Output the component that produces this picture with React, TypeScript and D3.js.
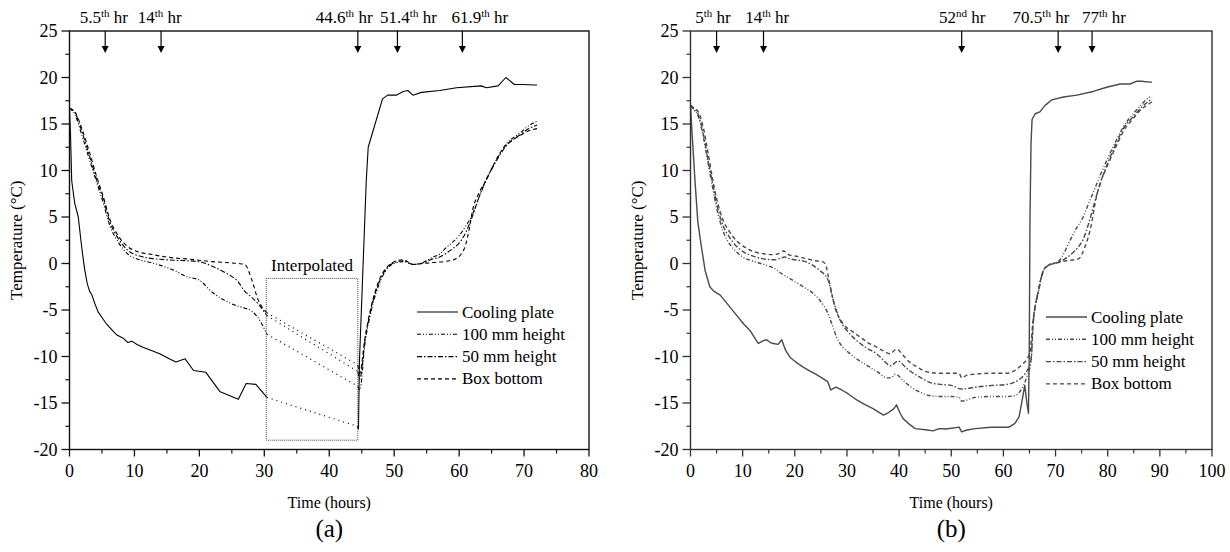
import React from 'react';
import * as d3 from 'd3';

type P = [number, number];

// ---------- Panel (a) data: [hours, °C] ----------
const coolA1: P[] = [[0,16.7],[0.15,14],[0.34,8.9],[0.8,6.5],[1.35,5],[1.88,1.75],[2.3,-0.5],[2.74,-2.2],[3.1,-3.0],[3.4,-3.3],[3.9,-4.3],[4.4,-5.2],[5.0,-5.8],[5.7,-6.5],[6.5,-7.1],[7.3,-7.7],[8.2,-8.0],[9.0,-8.5],[9.6,-8.35],[10.4,-8.7],[11.3,-9.0],[12.6,-9.35],[13.9,-9.7],[15.5,-10.3],[16.4,-10.6],[17.8,-10.25],[19.1,-11.5],[21.0,-11.7],[23.2,-13.8],[26.0,-14.6],[27.2,-12.9],[28.7,-13.0],[30.4,-14.4]];
const coolA2: P[] = [[44.3,-17.5],[44.5,-17.8],[44.65,-10.5],[45.7,8.9],[46.0,12.5],[48.2,17.7],[49.0,18.1],[50.3,18.1],[51.4,18.5],[52.1,18.6],[52.9,18.1],[54.2,18.4],[57.0,18.6],[59.6,18.9],[63.4,19.1],[64.2,18.9],[66.0,19.1],[67.2,20.0],[68.5,19.25],[69.8,19.25],[71.6,19.2],[72,19.2]];
const boxA1: P[] = [[0,16.7],[0.85,16.3],[1.9,14.5],[3.15,11.8],[4.2,9.3],[5.2,7.2],[6.2,4.8],[7.5,3.0],[9.0,1.8],[10.8,1.2],[12.5,1.0],[14,0.8],[16,0.6],[18,0.5],[20,0.35],[22,0.2],[24,0.1],[26,0.0],[27,-0.1],[28,-1.6],[29,-3.8],[30.4,-5.3]];
const mid50A1: P[] = [[0,16.7],[0.85,16.2],[1.9,14.2],[3.15,11.4],[4.2,9.0],[5.2,6.9],[6.2,4.5],[7.5,2.7],[9.0,1.4],[10.8,0.8],[12.5,0.55],[14,0.45],[16,0.35],[18,0.3],[20,0.2],[22,-0.3],[24,-1.0],[26,-2.0],[27,-3.0],[28,-3.6],[29,-4.3],[30.4,-5.6]];
const h100A1: P[] = [[0,16.7],[0.85,16.0],[1.9,13.8],[3.15,11.0],[4.2,8.7],[5.2,6.5],[6.2,4.1],[7.5,2.3],[9.0,1.0],[10.8,0.4],[12.5,0.1],[14,-0.2],[16,-0.7],[18,-1.4],[20,-1.8],[22,-3.1],[24,-4.0],[26,-4.6],[27,-4.8],[28,-5.1],[29,-5.8],[30.4,-7.6]];
const boxA2: P[] = [[44.4,-10.9],[44.7,-11.8],[45.5,-8.0],[46.5,-4.5],[47.8,-1.6],[49,-0.3],[50,0.2],[51.4,0.4],[52.9,-0.1],[54.4,0.0],[56,0.1],[58.5,0.3],[59.5,0.5],[60.3,1.0],[61,2.0],[61.5,3.5],[62.1,5.8],[63,7.5],[64.2,9.0],[65.3,10.6],[66.3,11.9],[67.3,12.8],[68.3,13.3],[69.5,13.8],[70.5,14.2],[72,14.5]];
const mid50A2: P[] = [[44.4,-11.6],[44.7,-12.4],[45.5,-8.3],[46.5,-4.7],[47.8,-1.8],[49,-0.4],[50,0.1],[51.4,0.3],[52.9,-0.1],[54.4,0.05],[56,0.5],[57,0.7],[58,1.1],[59,1.6],[60,2.2],[61,3.3],[62,5.0],[63,7.0],[64,8.8],[65.3,10.5],[66.3,11.7],[67.3,12.7],[68.3,13.3],[69.5,13.9],[70.5,14.4],[72,14.9]];
const h100A2: P[] = [[44.4,-13.2],[44.7,-13.6],[45.5,-8.6],[46.5,-5.0],[47.8,-2.0],[49,-0.5],[50,0.0],[51.4,0.2],[52.9,-0.1],[54.4,0.1],[56,0.7],[57,1.0],[58,1.7],[59,2.3],[60,3.0],[61,4.0],[62,5.2],[63,7.0],[64,8.7],[65.3,10.6],[66.3,11.8],[67.3,12.9],[68.3,13.5],[69.5,14.1],[70.5,14.7],[72,15.3]];
const interpBoxA = { h0: 30.3, h1: 44.4, t0: -1.6, t1: -19.0 };

// ---------- Panel (b) data ----------
const coolB: P[] = [[0,17],[0.3,14],[0.86,8.9],[1.4,4.5],[2.1,1.75],[2.8,-0.75],[3.7,-2.5],[4.5,-3.0],[5.7,-3.4],[7.3,-4.5],[8.9,-5.6],[10.2,-6.5],[11.4,-7.2],[12.3,-8.0],[13.0,-8.6],[14.0,-8.3],[14.6,-8.2],[15.3,-8.5],[15.9,-8.6],[16.8,-8.7],[17.5,-8.2],[18.2,-9.3],[19.1,-10.1],[20.2,-10.6],[21.6,-11.15],[23.0,-11.6],[24.0,-11.9],[25.5,-12.4],[26.3,-12.7],[26.9,-13.6],[27.9,-13.3],[29.0,-13.6],[30.2,-14.0],[31.7,-14.6],[33.2,-15.1],[35.0,-15.6],[37.0,-16.3],[37.8,-16.1],[39.0,-15.6],[39.5,-15.2],[40.2,-16.1],[40.8,-16.7],[42.0,-17.3],[43.1,-17.75],[45.4,-17.9],[46.5,-18.0],[47.7,-17.75],[49,-17.8],[51.5,-17.6],[52.0,-18.1],[53,-17.9],[54.6,-17.75],[57.6,-17.6],[61.1,-17.6],[62.2,-17.2],[63.0,-16.5],[63.5,-15.0],[64.1,-13.1],[64.5,-15.0],[64.8,-16.1],[64.95,-10],[65.1,5],[65.3,13],[65.5,15.5],[66.1,16.1],[67.0,16.3],[68.0,17.0],[69.3,17.6],[71.5,17.9],[74.1,18.1],[77.2,18.5],[79.8,18.95],[82.4,19.3],[84.3,19.3],[85.6,19.6],[86.5,19.6],[88.0,19.5],[88.5,19.5]];
const boxB: P[] = [[0,17],[0.5,16.8],[1.5,16.3],[2.5,14.5],[3.4,11.8],[4.2,9.2],[5.0,7.0],[6.3,4.6],[7.5,3.4],[8.9,2.4],[10,1.9],[12,1.3],[14,1.05],[16,0.95],[17.0,1.1],[17.8,1.35],[19,0.9],[20,0.8],[22,0.55],[24,0.3],[25.5,0.15],[26,-0.3],[26.7,-2.2],[27.7,-4.7],[29.3,-6.5],[31,-7.3],[32.5,-7.9],[34,-8.5],[35.7,-9.0],[37,-9.4],[38.3,-9.7],[39.5,-9.2],[40.8,-9.9],[42,-10.6],[43.4,-11.1],[45,-11.6],[47.7,-11.8],[50,-11.8],[51.5,-11.8],[52,-12.3],[53,-12.0],[54.6,-11.9],[58,-11.8],[60.7,-11.8],[62.2,-11.5],[63.7,-10.8],[64.5,-10.3],[65.1,-9.5],[65.7,-6.1],[66.7,-2.9],[67.7,-0.7],[68.6,-0.25],[70.5,0.1],[72.1,0.3],[74.4,0.5],[75.6,1.75],[76.6,3.5],[77.9,7.3],[78.5,8.5],[80,10.6],[81.7,12.7],[83,14.2],[84.9,15.6],[86.5,16.6],[88,17.2],[88.5,17.4]];
const mid50B: P[] = [[0,17],[0.5,16.7],[1.5,16.0],[2.5,13.8],[3.4,11.0],[4.2,8.7],[5.0,6.5],[6.3,4.0],[7.5,2.8],[8.9,1.8],[10,1.3],[12,0.8],[14,0.5],[16,0.4],[17.4,0.6],[18,0.7],[19,0.5],[20,0.4],[22,0.2],[24,-0.4],[24.8,-0.75],[26.4,-1.8],[27.4,-4.0],[28.7,-6.1],[30.3,-7.4],[31.9,-8.3],[33.8,-9.1],[35.7,-9.7],[37,-10.4],[38.3,-11.0],[39.8,-10.5],[41.5,-11.3],[43.9,-12.2],[46,-12.8],[48,-13.0],[50,-13.1],[52,-13.5],[54.6,-13.3],[58,-13.1],[60.7,-13.0],[62.2,-12.75],[63.2,-12.4],[64.1,-11.9],[65.3,-10.4],[65.7,-6.4],[66.7,-3.0],[67.7,-0.7],[68.6,-0.2],[70.5,0.15],[71.8,0.5],[73.2,1.1],[74.4,1.8],[75.3,2.6],[76.4,4.4],[77.5,6.6],[78.5,8.5],[80,10.8],[81.7,13.0],[83,14.5],[84.9,15.8],[86.5,16.8],[88,17.5],[88.5,17.7]];
const h100B: P[] = [[0,17],[0.5,16.6],[1.5,15.8],[2.5,13.5],[3.4,10.7],[4.2,8.3],[5.0,6.0],[6.3,3.4],[7.5,2.1],[8.9,1.2],[10,0.7],[12,0.25],[14,-0.1],[16,-0.5],[17.5,-1.1],[19,-1.6],[21.6,-2.5],[23.5,-3.2],[25.5,-4.5],[26.3,-5.3],[27.1,-6.5],[28.0,-7.9],[29.2,-9.0],[30.6,-9.7],[32.5,-10.5],[34.4,-11.15],[36,-11.7],[37.6,-12.3],[38.4,-12.3],[39.3,-11.9],[40.8,-12.6],[42.3,-13.3],[43.9,-13.8],[45.8,-14.2],[47.7,-14.3],[50,-14.3],[51.5,-14.4],[52,-14.8],[54.6,-14.4],[58,-14.3],[60.7,-14.3],[62.2,-14.2],[63.0,-13.9],[63.7,-13.3],[64.5,-12.2],[65.3,-10.4],[65.7,-6.6],[66.7,-3.1],[67.7,-0.8],[68.6,-0.2],[70.5,0.2],[71.5,1.0],[72.8,2.5],[74,3.8],[75.3,5.0],[76.3,6.4],[77.2,7.6],[78.5,9.4],[80,11.3],[81.7,13.3],[83,14.7],[84.9,16.1],[86.5,17.1],[87.8,17.8],[88.5,18.0]];

// ---------- Axis ticks / labels ----------
const yTicks = [-20, -15, -10, -5, 0, 5, 10, 15, 20, 25];
const yMinor = [-17.5, -12.5, -7.5, -2.5, 2.5, 7.5, 12.5, 17.5, 22.5];
const xTicksA = [0, 10, 20, 30, 40, 50, 60, 70, 80];
const xMinorA = [5, 15, 25, 35, 45, 55, 65, 75];
const xTicksB = [0, 10, 20, 30, 40, 50, 60, 70, 80, 90, 100];
const xMinorB = [5, 15, 25, 35, 45, 55, 65, 75, 85, 95];

const legendNames = ['Cooling plate', '100 mm height', '50 mm height', 'Box bottom'];

// annotations: [number part, superscript], arrow hour, label-centre hour
const annoTextA: [string, string][] = [['5.5', 'th'], ['14', 'th'], ['44.6', 'th'], ['51.4', 'th'], ['61.9', 'th']];
const annoArrowA = [5.5, 14.1, 44.4, 50.5, 60.5];
const annoLabelA = [5.3, 13.9, 42.3, 52.2, 63.2];
const annoTextB: [string, string][] = [['5', 'th'], ['14', 'th'], ['52', 'nd'], ['70.5', 'th'], ['77', 'th']];
const annoArrowB = [5, 14, 52, 70.5, 77];
const annoLabelB = [4.3, 14.7, 52.1, 67.2, 79.3];

const FONT = "'Liberation Serif', 'Times New Roman', Times, serif";
const DASH = ['none', '4,2,1,2,1,2', '5,2,1.5,2', '4,3'];

interface PanelProps {
  left: number; right: number; top: number; bottom: number;
  xMax: number; xTicks: number[]; xMinor: number[];
  color: string; axisColor: string; lw: number;
  series: { parts: P[][]; style: number; curve: boolean }[];
  dotted: [P, P][];
  annoText: [string, string][]; annoArrow: number[]; annoLabel: number[];
  legend: { x: number; y: number };
  tag: string; ytitleX: number;
  interp?: { h0: number; h1: number; t0: number; t1: number };
}

function Panel(p: PanelProps) {
  const x = d3.scaleLinear().domain([0, p.xMax]).range([p.left, p.right]);
  const y = d3.scaleLinear().domain([-20, 25]).range([p.bottom, p.top]);
  const lineLin = d3.line<P>().x(d => x(d[0])).y(d => y(d[1]));
  const lineCurve = d3.line<P>().x(d => x(d[0])).y(d => y(d[1])).curve(d3.curveMonotoneX);
  const cx = (p.left + p.right) / 2;
  const ts = { fontFamily: FONT };
  return (
    <g fill="#000">
      {p.series.map((s, i) => s.parts.map((pt, j) => (
        <path key={`s${i}-${j}`} d={(s.curve ? lineCurve : lineLin)(pt) || ''} fill="none"
          stroke={p.color} strokeWidth={p.lw} strokeDasharray={DASH[s.style]} strokeLinejoin="round" />
      )))}
      {p.dotted.map((seg, i) => (
        <path key={`d${i}`} d={lineLin(seg) || ''} fill="none" stroke={p.color} strokeWidth={1.2} strokeDasharray="1,4" />
      ))}
      {p.interp && (
        <g>
          <rect x={x(p.interp.h0)} y={y(p.interp.t0)} width={x(p.interp.h1) - x(p.interp.h0)}
            height={y(p.interp.t1) - y(p.interp.t0)} fill="none" stroke="#444" strokeWidth={1} strokeDasharray="1,1" />
          <text style={ts} x={(x(p.interp.h0) + x(p.interp.h1)) / 2} y={y(p.interp.t0) - 7} fontSize={17} textAnchor="middle">Interpolated</text>
        </g>
      )}
      <rect x={p.left} y={p.top} width={p.right - p.left} height={p.bottom - p.top} fill="none" stroke={p.axisColor} strokeWidth={1.4} />
      {yTicks.map(t => (
        <g key={`yt${t}`}>
          <line x1={p.left - 8} x2={p.left} y1={y(t)} y2={y(t)} stroke={p.axisColor} strokeWidth={1.3} />
          <text style={ts} x={p.left - 12} y={y(t) + 6} fontSize={18} textAnchor="end">{t}</text>
        </g>
      ))}
      {yMinor.map(t => (
        <line key={`ym${t}`} x1={p.left - 4} x2={p.left} y1={y(t)} y2={y(t)} stroke={p.axisColor} strokeWidth={1.2} />
      ))}
      {p.xTicks.map(t => (
        <g key={`xt${t}`}>
          <line x1={x(t)} x2={x(t)} y1={p.bottom} y2={p.bottom + 7} stroke={p.axisColor} strokeWidth={1.3} />
          <text style={ts} x={x(t)} y={p.bottom + 27} fontSize={18} textAnchor="middle">{t}</text>
        </g>
      ))}
      {p.xMinor.map(t => (
        <line key={`xm${t}`} x1={x(t)} x2={x(t)} y1={p.bottom} y2={p.bottom + 4} stroke={p.axisColor} strokeWidth={1.2} />
      ))}
      <text style={ts} x={cx} y={p.bottom + 58} fontSize={16} textAnchor="middle">Time (hours)</text>
      <text style={ts} transform={`translate(${p.ytitleX},${(p.top + p.bottom) / 2}) rotate(-90)`} fontSize={17} textAnchor="middle">Temperature (°C)</text>
      <text style={ts} x={cx} y={p.bottom + 87} fontSize={25} textAnchor="middle">{p.tag}</text>
      {p.annoText.map((a, i) => {
        const ax = x(p.annoArrow[i]);
        return (
          <g key={`a${i}`}>
            <text style={ts} x={x(p.annoLabel[i])} y={p.top - 8} fontSize={17} textAnchor="middle">
              {a[0]}<tspan fontSize={11} dy={-6}>{a[1]}</tspan><tspan dy={6}> hr</tspan>
            </text>
            <line x1={ax} x2={ax} y1={p.top} y2={p.top + 16} stroke="#000" strokeWidth={1.2} />
            <path d={`M${ax - 3.5},${p.top + 15} L${ax + 3.5},${p.top + 15} L${ax},${p.top + 22} Z`} fill="#000" />
          </g>
        );
      })}
      {legendNames.map((n, i) => {
        const ly = p.legend.y + i * 22.3;
        return (
          <g key={`l${i}`}>
            <line x1={p.legend.x} x2={p.legend.x + 41} y1={ly} y2={ly} stroke={p.color} strokeWidth={p.lw} strokeDasharray={DASH[i]} />
            <text style={ts} x={p.legend.x + 45} y={ly + 5.5} fontSize={17}>{n}</text>
          </g>
        );
      })}
    </g>
  );
}

export default function App() {
  const A = (
    <Panel left={69.5} right={589} top={31} bottom={449.5} xMax={80} xTicks={xTicksA} xMinor={xMinorA}
      color="#000" axisColor="#111" lw={1.1}
      series={[
        { parts: [coolA1, coolA2], style: 0, curve: false },
        { parts: [h100A1, h100A2], style: 1, curve: true },
        { parts: [mid50A1, mid50A2], style: 2, curve: true },
        { parts: [boxA1, boxA2], style: 3, curve: true },
      ]}
      dotted={[
        [coolA1[coolA1.length - 1], coolA2[0]],
        [h100A1[h100A1.length - 1], h100A2[0]],
        [mid50A1[mid50A1.length - 1], mid50A2[0]],
        [boxA1[boxA1.length - 1], boxA2[0]],
      ]}
      annoText={annoTextA} annoArrow={annoArrowA} annoLabel={annoLabelA}
      legend={{ x: 417, y: 312 }} tag="(a)" ytitleX={22} interp={interpBoxA} />
  );
  const B = (
    <Panel left={690.5} right={1212} top={31} bottom={449.5} xMax={100} xTicks={xTicksB} xMinor={xMinorB}
      color="#4a4a4a" axisColor="#333" lw={1.4}
      series={[
        { parts: [coolB], style: 0, curve: false },
        { parts: [h100B], style: 1, curve: true },
        { parts: [mid50B], style: 2, curve: true },
        { parts: [boxB], style: 3, curve: true },
      ]}
      dotted={[]}
      annoText={annoTextB} annoArrow={annoArrowB} annoLabel={annoLabelB}
      legend={{ x: 1046, y: 317 }} tag="(b)" ytitleX={643} />
  );
  return (
    <svg width={1230} height={552} style={{ position: 'absolute', left: 0, top: 0, background: '#fff' }}>
      <rect width={1230} height={552} fill="#fff" />
      {A}
      {B}
    </svg>
  );
}
